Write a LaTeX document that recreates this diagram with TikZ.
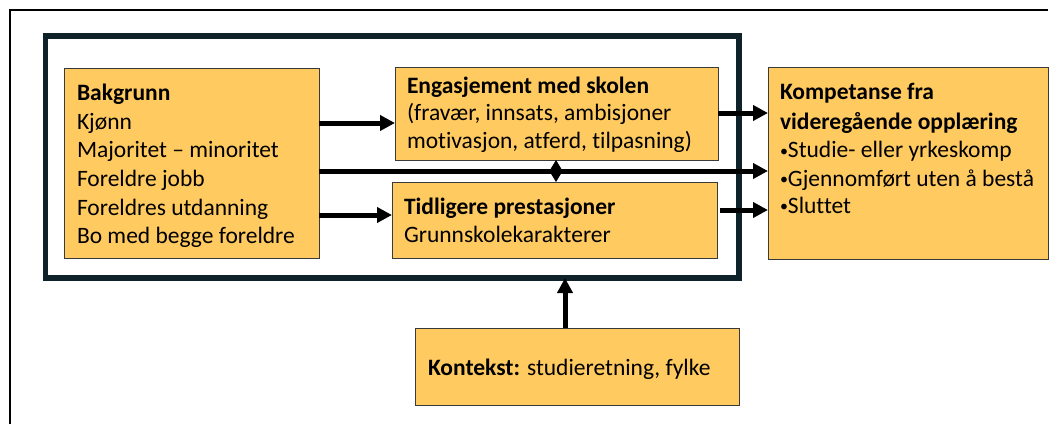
\documentclass[tikz,border=0pt]{standalone}
\usepackage{fontspec}
\setmainfont[Ligatures={NoCommon}]{Carlito}
\usetikzlibrary{arrows.meta}
\definecolor{boxfill}{HTML}{FFCA5F}
\definecolor{frameblue}{HTML}{0F2129}
\definecolor{boxline}{HTML}{3A3A3A}
\newcommand{\smallbul}{{\fontsize{16}{16}\selectfont\raisebox{1.5pt}{•}}}
\begin{document}
\begin{tikzpicture}[x=1pt,y=-1pt,
  box/.style={draw=boxline, line width=0.8pt, fill=boxfill, inner sep=0pt, outer sep=0pt, anchor=north west},
  txt/.style={anchor=base west, inner sep=0pt, outer sep=0pt, font=\fontsize{23.5}{28}\selectfont},
  btxt/.style={txt, font=\fontsize{23.5}{28}\selectfont\bfseries},
  arr/.style={line width=5pt, -{Triangle[length=15pt,width=15pt]}},
  dbl/.style={line width=1pt, {Triangle[length=11pt,width=13pt]}-{Triangle[length=11pt,width=13pt]}},
  framebox/.style={draw=frameblue, line width=5.5pt, inner sep=0pt, outer sep=0pt, anchor=north west},
  outerline/.style={draw=black, line width=2.2pt}
]
\useasboundingbox (0,0) rectangle (1059,424);

% outer (cropped) frame
\draw[outerline] (10,424) -- (10,10) -- (1048,10);

% inner frame
\node[framebox, minimum width=693.5pt, minimum height=242pt] (frame) at (45.5,36) {};

% boxes
\node[box, minimum width=255pt, minimum height=190pt] (bak) at (64,68) {};
\node[box, minimum width=323pt, minimum height=93pt] (eng) at (395,67) {};
\node[box, minimum width=325pt, minimum height=76pt] (tid) at (392,182) {};
\node[box, minimum width=280pt, minimum height=192pt] (komp) at (768,67) {};
\node[box, minimum width=324pt, minimum height=77pt] (kon) at (415,328) {};

% texts
\node[btxt] (bak1) at (77,100) {Bakgrunn};
\node[txt] (bak2) at (77,129) {Kjønn};
\node[txt] (bak3) at (77,157) {Majoritet – minoritet};
\node[txt] (bak4) at (77,186) {Foreldre jobb};
\node[txt] (bak5) at (77,215) {Foreldres utdanning};
\node[txt] (bak6) at (77,243) {Bo med begge foreldre};

\node[btxt] (eng1) at (407,93) {Engasjement med skolen};
\node[txt] (eng2) at (407,120) {(fravær, innsats, ambisjoner};
\node[txt] (eng3) at (407,148) {motivasjon, atferd, tilpasning)};

\node[btxt] (tid1) at (404,214) {Tidligere prestasjoner};
\node[txt] (tid2) at (404,242) {Grunnskolekarakterer};

\node[btxt] (komp1) at (780,99) {Kompetanse fra};
\node[btxt] (komp2) at (780,129) {videregående opplæring};
\node[txt] (komp3) at (780,157.5) {\smallbul Studie- eller yrkeskomp};
\node[txt] (komp4) at (780,186) {\smallbul Gjennomført uten å bestå};
\node[txt] (komp5) at (780,213) {\smallbul Sluttet};

\node[txt] (kon1) at (428,375) {\textbf{Kontekst:} studieretning, fylke};

% helper coordinates
\coordinate (ya) at (0,123);
\coordinate (ym) at (0,171);
\coordinate (yb) at (0,215);
\coordinate (yc) at (0,113);
\coordinate (yd) at (0,210);
\coordinate (xk) at (565,0);
\coordinate (xd) at (556,0);

% connectors
\draw[arr] (bak.east |- ya) -- (eng.west |- ya);
\draw[arr] (bak.east |- yb) -- (tid.west |- yb);
\draw[arr] (bak.east |- ym) -- (komp.west |- ym);
\draw[arr] (eng.east |- yc) -- (komp.west |- yc);
\draw[arr, shorten <=3pt] (tid.east |- yd) -- (komp.west |- yd);
\draw[arr] (kon.north -| xk) -- (frame.south -| xk);
\draw[dbl] (eng.south -| xd) -- (tid.north -| xd);
\end{tikzpicture}
\end{document}
